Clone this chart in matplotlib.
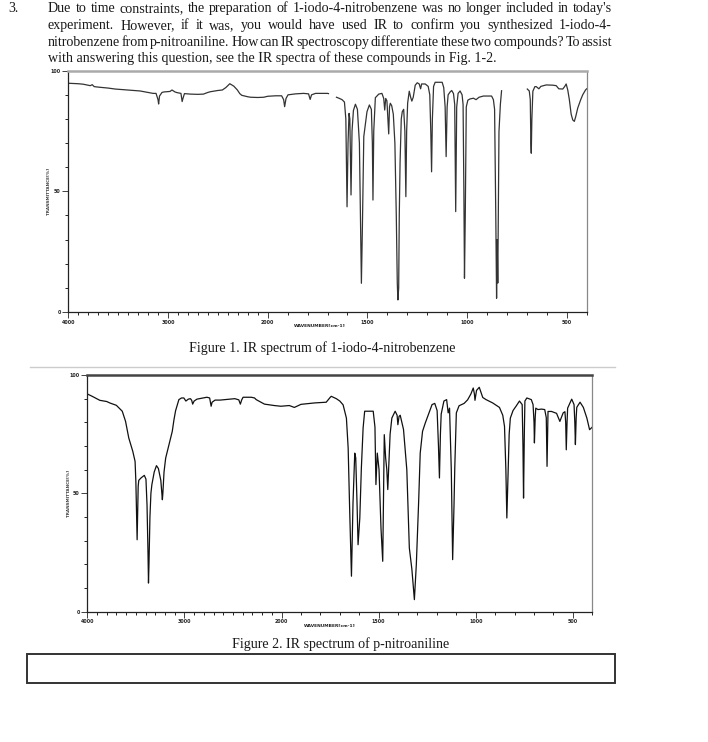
import numpy as np
import matplotlib
matplotlib.use("Agg")
import matplotlib.pyplot as plt
from matplotlib.ticker import FixedLocator, NullFormatter
from matplotlib.patches import Rectangle
from matplotlib.lines import Line2D

W, H = 708, 742
SERIF = ["Liberation Serif", "DejaVu Serif"]

# --- text of the page ---
para = [
    "Due to time constraints, the preparation of 1-iodo-4-nitrobenzene was no longer included in today's",
    "experiment. However, if it was, you would have used IR to confirm you synthesized 1-iodo-4-",
    "nitrobenzene from p-nitroaniline. How can IR spectroscopy differentiate these two compounds? To assist",
    "with answering this question, see the IR spectra of these compounds in Fig. 1-2.",
]
cap1 = "Figure 1. IR spectrum of 1-iodo-4-nitrobenzene"
cap2 = "Figure 2. IR spectrum of p-nitroaniline"

major_wn = [4000, 3000, 2000, 1500, 1000, 500]
major_lab = ["4000", "3000", "2000", "1500", "1000", "500"]
minor_wn = list(range(400, 4001, 100))

# --- spectrum 1: 1-iodo-4-nitrobenzene (wavenumber, %T) ---
wn1 = [4000, 3900, 3850, 3780, 3760, 3740, 3700, 3600, 3530, 3400, 3280, 3150, 3120, 3100, 3094, 3085,
       3060, 3040, 2980, 2960, 2930, 2908, 2870, 2858, 2850, 2835, 2775, 2700, 2644, 2600, 2573, 2500,
       2455, 2420, 2380, 2340, 2304, 2280, 2260, 2200, 2170, 2100, 2040, 2000, 1960, 1930, 1920, 1915,
       1908, 1898, 1860, 1820, 1795, 1787, 1780, 1760, 1700, 1695, np.nan,
       1655, 1640, 1627, 1615, 1608, 1602, 1597, 1592, 1588, 1582, 1577, 1570, 1560, 1550, 1540, 1535,
       1530, 1525, 1518, 1510, 1502, 1490, 1480, 1475, 1472, 1468, 1460, 1443, 1427, 1418, 1413, 1408,
       1402, 1397, 1393, 1389, 1385, 1378, 1370, 1362, 1355, 1350, 1347, 1343, 1340, 1336, 1330, 1325,
       1318, 1312, 1307, 1303, 1298, 1290, 1283, 1277, 1270, 1260, 1250, 1240, 1233, 1228, 1210, 1195,
       1187, 1182, 1178, 1174, 1168, 1160, 1125, 1117, 1110, 1105, 1100, 1095, 1085, 1077, 1068, 1062,
       1057, 1052, 1045, 1035, 1025, 1020, 1016, 1013, 1009, 1004, 996, 985, 968, 955, 940, 918,
       877, 868, 862, 856, 852, 849, 846, 843, 840, 833, 827, np.nan,
       698, 688, 683, 680, 678, 675, 670, 660, 653, 640, 630, 603, 570, 553, 540, 520,
       510, 503, 495, 487, 478, 470, 462, 455, 445, 430, 420, 406, 400]
t1 = [94.8, 94.6, 94.4, 93.8, 94.2, 93.4, 93.2, 92.8, 92.4, 92.0, 91.6, 90.6, 90.6, 88.0, 86.2, 89.5,
      91.0, 91.2, 91.4, 92.0, 91.2, 90.9, 90.6, 87.2, 88.5, 90.5, 90.3, 90.2, 90.3, 91.0, 91.3, 91.8,
      92.0, 93.0, 94.6, 93.6, 92.0, 90.5, 89.8, 89.2, 89.0, 88.9, 89.0, 89.4, 89.6, 89.6, 88.0, 85.1,
      88.5, 90.0, 90.4, 90.6, 90.4, 88.1, 90.0, 90.6, 90.6, 90.5, np.nan,
      89.0, 88.5, 88.0, 87.0, 80.0, 43.6, 70.0, 82.3, 80.0, 48.5, 75.0, 83.5, 86.1, 84.0, 70.0, 40.0,
      11.9, 35.0, 72.7, 78.0, 83.0, 85.8, 84.0, 70.0, 46.4, 75.0, 88.8, 90.3, 90.6, 88.5, 83.7, 88.5,
      87.5, 80.0, 73.8, 85.0, 86.5, 85.5, 82.0, 70.0, 40.0, 12.0, 5.0, 10.0, 40.0, 62.0, 80.0, 83.0,
      84.0, 75.0, 47.8, 75.0, 86.6, 91.5, 89.0, 87.4, 89.0, 94.0, 95.0, 94.5, 92.5, 94.5, 94.5, 93.5,
      90.0, 75.0, 58.1, 80.0, 93.5, 95.2, 95.2, 93.0, 85.0, 64.4, 85.0, 90.0, 91.2, 91.8, 90.5, 86.0,
      41.6, 85.0, 90.6, 91.6, 90.0, 86.0, 50.0, 14.0, 40.0, 85.0, 87.8, 88.3, 88.6, 88.0, 89.0, 89.5,
      89.5, 88.0, 84.0, 40.0, 5.7, 30.0, 12.0, 45.0, 74.7, 86.0, 91.7, np.nan,
      92.4, 91.6, 88.0, 70.0, 65.8, 80.0, 91.5, 93.4, 93.4, 92.5, 93.5, 94.1, 94.0, 93.8, 92.5, 92.4,
      93.5, 94.5, 92.0, 88.0, 82.0, 79.6, 79.0, 81.0, 84.5, 88.0, 90.0, 92.0, 92.5]

# --- spectrum 2: p-nitroaniline (wavenumber, %T) ---
wn2 = [4000, 3950, 3871, 3800, 3769, 3701, 3640, 3606, 3573, 3532, 3508, 3500, 3495, 3490, 3487, 3482,
       3476, 3470, 3447, 3413, 3396, 3385, 3375, 3370, 3365, 3355, 3345, 3335, 3311, 3288, 3268, 3243,
       3230, 3227, 3222, 3210, 3193, 3159, 3125, 3108, 3091, 3057, 3030, 3006, 2985, 2960, 2938, 2925,
       2915, 2900, 2871, 2820, 2769, 2740, 2730, 2725, 2715, 2684, 2633, 2583, 2530, 2481, 2440, 2424,
       2410, 2396, 2312, 2278, 2261, 2176, 2075, 2007, 1960, 1934, 1900, 1830, 1770, 1750, 1744, 1718,
       1700, 1683, 1666, 1657, 1649, 1640, 1632, 1623, 1618, 1611, 1606, 1597, 1589, 1580, 1572, 1528,
       1519, 1514, 1507, 1498, 1488, 1479, 1471, 1464, 1458, 1453, 1441, 1432, 1415, 1405, 1401, 1395,
       1389, 1372, 1355, 1342, 1329, 1316, 1306, 1294, 1286, 1274, 1260, 1243, 1225, 1211, 1199, 1192,
       1187, 1182, 1178, 1164, 1150, 1142, 1135, 1126, 1119, 1112, 1108, 1100, 1086, 1060, 1042, 1025,
       1013, 1007, 1004, 999, 996, 982, 964, 947, 913, 878, 861, 852, 845, 840, 835, 828,
       822, 808, 791, 775, 761, 757, 754, 750, 747, 737, 714, 705, 700, 698, 694, 691,
       680, 662, 645, 637, 633, 629, 628, 610, 584, 567, 550, 541, 537, 534, 530, 527,
       506, 494, 490, 487, 483, 480, 475, 463, 446, 428, 414, 400]
t2 = [92.0, 91.0, 89.3, 88.8, 88.2, 87.2, 84.7, 80.4, 73.4, 67.8, 63.5, 55.0, 45.0, 35.0, 30.4, 40.0,
      53.0, 55.5, 56.5, 57.6, 56.0, 45.0, 25.0, 12.1, 20.0, 40.0, 50.0, 53.7, 59.0, 61.7, 60.5, 55.5,
      49.0, 47.3, 50.0, 59.0, 64.9, 70.6, 76.2, 81.0, 84.9, 89.6, 90.3, 90.3, 89.0, 89.8, 90.0, 89.3,
      87.7, 89.0, 89.8, 90.2, 90.6, 90.3, 88.0, 86.8, 88.5, 89.4, 89.4, 89.6, 89.8, 90.0, 89.5, 87.7,
      89.5, 90.6, 90.6, 90.3, 89.6, 87.7, 87.1, 86.8, 87.1, 86.3, 87.6, 88.2, 88.5, 90.5, 91.0, 90.0,
      89.0, 87.4, 81.8, 69.2, 42.4, 15.0, 46.0, 67.0, 65.0, 45.0, 28.3, 39.6, 60.7, 77.6, 84.7, 84.7,
      78.0, 53.7, 67.0, 60.0, 35.4, 21.3, 74.8, 65.0, 60.0, 51.6, 75.0, 81.8, 84.7, 83.0, 79.0, 82.5,
      83.0, 77.0, 60.0, 26.9, 18.0, 5.1, 20.0, 46.6, 67.0, 76.2, 79.7, 83.5, 87.5, 88.0, 85.0, 70.0,
      56.5, 75.0, 83.5, 89.0, 89.6, 84.0, 86.0, 60.0, 22.0, 45.0, 61.0, 84.0, 87.0, 88.0, 89.5, 92.0,
      94.5, 92.0, 89.3, 92.0, 93.5, 94.8, 90.5, 89.6, 88.2, 86.3, 83.0, 78.3, 60.0, 39.6, 55.0, 75.0,
      81.8, 85.0, 87.0, 89.0, 87.5, 70.0, 48.0, 75.0, 89.0, 90.3, 89.6, 87.5, 80.0, 71.3, 82.0, 86.0,
      85.4, 85.6, 85.4, 82.0, 61.4, 82.0, 84.6, 84.6, 83.8, 80.4, 84.0, 84.5, 80.0, 68.4, 80.0, 86.0,
      89.8, 87.5, 80.0, 70.6, 82.0, 86.3, 87.0, 88.5, 86.3, 81.8, 76.9, 78.0]


# wavenumber axis: 2000 cm-1 and below is drawn at twice the scale
def fwd(w):
    w = np.asarray(w, float)
    return np.where(w >= 2000, w, 2000 - (2000 - w) * 2)


def inv(p):
    p = np.asarray(p, float)
    return np.where(p >= 2000, p, 2000 - (2000 - p) / 2)


def px(x, y):
    return x / W, 1 - y / H


fig = plt.figure(figsize=(W / 100, H / 100), dpi=100)


def spectrum_axes(x0, y0, x1, y1, wn, t, color, top_col, xlab_x, ylab_x):
    ax = fig.add_axes([x0 / W, 1 - y1 / H, (x1 - x0) / W, (y1 - y0) / H])
    ax.set_xscale("function", functions=(fwd, inv))
    ax.plot(wn, t, color=color, lw=0.9)
    ax.set_xlim(4000, 400)
    ax.set_ylim(0, 100)
    ax.xaxis.set_major_locator(FixedLocator(major_wn))
    ax.set_xticklabels(major_lab)
    ax.xaxis.set_minor_locator(FixedLocator(minor_wn))
    ax.xaxis.set_minor_formatter(NullFormatter())
    ax.set_yticks([0, 50, 100])
    ax.set_yticklabels(["0", "50", "100"])
    ax.set_yticks(range(0, 101, 10), minor=True)
    ax.tick_params(which="major", direction="out", length=4, width=0.6, pad=1.5,
                   labelsize=3.4, colors="#222")
    ax.tick_params(which="minor", direction="out", length=2.2, width=0.6)
    for lab in ax.get_xticklabels() + ax.get_yticklabels():
        lab.set_fontweight("bold")
    for s in ("left", "bottom"):
        ax.spines[s].set_color("#222")
        ax.spines[s].set_linewidth(0.9)
    ax.spines["top"].set_color(top_col)
    ax.spines["top"].set_linewidth(1.8)
    ax.spines["right"].set_color("#888")
    ax.spines["right"].set_linewidth(0.9)
    cx, cy = px(xlab_x, y1 + 14)
    fig.text(cx, cy, "WAVENUMBER[cm-1]", fontsize=3.2, fontweight="bold",
             ha="center", va="center", color="#222")
    cx, cy = px(ylab_x, (y0 + y1) / 2)
    fig.text(cx, cy, "TRANSMITTANCE[%]", fontsize=3.0, fontweight="bold",
             rotation=90, ha="center", va="center", color="#444")
    return ax


ax1 = spectrum_axes(68.3, 70.7, 586.7, 312.0, wn1, t1, "#333", "#aaa", 320, 49)
ax2 = spectrum_axes(87.3, 375.0, 592.3, 611.7, wn2, t2, "#111", "#444", 330, 69)

# --- page text ---
fig.canvas.draw()
r = fig.canvas.get_renderer()


def text_w(s, size):
    t = fig.text(0, 0, s, fontsize=size, family=SERIF)
    w = t.get_window_extent(r).width
    t.remove()
    return w


size = 10 * 449 / text_w(para[3], 10)
left, right = 48, 612
base_y = [12, 29, 46, 62]
for i, line in enumerate(para):
    if i == len(para) - 1:
        fig.text(*px(left, base_y[i]), line, fontsize=size, family=SERIF,
                 va="baseline", color="#1a1a1a")
        continue
    words = line.split(" ")
    ws = [text_w(w, size) for w in words]
    gap = (right - left - sum(ws)) / (len(words) - 1)
    x = left
    for w, wd in zip(words, ws):
        fig.text(*px(x, base_y[i]), w, fontsize=size, family=SERIF,
                 va="baseline", color="#1a1a1a")
        x += wd + gap

fig.text(*px(8, base_y[0]), "3.", fontsize=size, family=SERIF, va="baseline", color="#1a1a1a")

fig.text(*px(322, 352), cap1, fontsize=size, family=SERIF, ha="center", va="baseline", color="#1a1a1a")
fig.text(*px(341, 648), cap2, fontsize=size, family=SERIF, ha="center", va="baseline", color="#1a1a1a")

# separator line and answer box
fig.add_artist(Line2D([30 / W, 615 / W], [1 - 367 / H, 1 - 367 / H], color="#cccccc", lw=1))
bx0, by0 = px(27, 683)
fig.add_artist(Rectangle((bx0, by0), (615 - 27) / W, (683 - 654) / H, fill=False,
                         edgecolor="#333", lw=1.4, transform=fig.transFigure))

fig.savefig("out.png", dpi=100)
